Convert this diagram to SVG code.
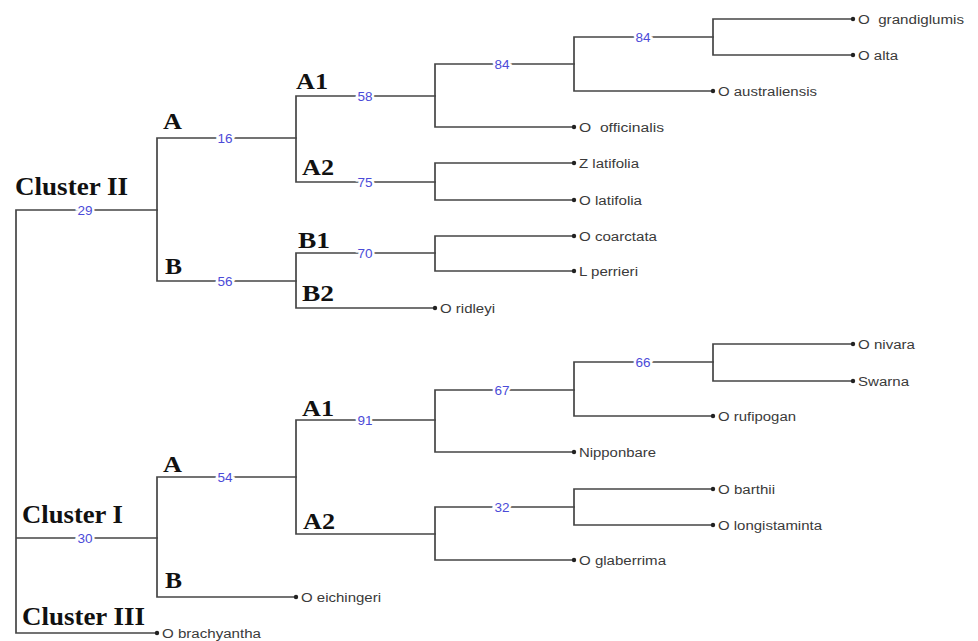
<svg xmlns="http://www.w3.org/2000/svg" width="978" height="641" viewBox="0 0 978 641">
<style>
.e{fill:none;stroke:#454545;stroke-width:1.7;stroke-linecap:square}
.d{fill:#222}
.t{font-family:"Liberation Sans",Arial,sans-serif;font-size:12.5px;fill:#3a3a3a}
.n{font-family:"Liberation Sans",Arial,sans-serif;font-size:13.5px;fill:#4b4bd8;text-anchor:middle;dominant-baseline:central;stroke:#fff;stroke-width:5;paint-order:stroke}
.c{font-family:"Liberation Serif","Times New Roman",serif;font-weight:bold;font-size:26px;fill:#111}
.s{font-family:"Liberation Serif","Times New Roman",serif;font-weight:bold;font-size:23px;fill:#111}
</style>
<rect width="978" height="641" fill="#fff"/>
<g id="connectors">
<path class="e" d="M16,210V633M16,210H157M16,538H157M16,633H157"/>
<path class="e" d="M157,138V281M157,138H296M157,281H296"/>
<path class="e" d="M296,96V182M296,96H435M296,182H435"/>
<path class="e" d="M435,64V127M435,64H574M435,127H574"/>
<path class="e" d="M574,37V91M574,37H713M574,91H713"/>
<path class="e" d="M713,19V55M713,19H853M713,55H853"/>
<path class="e" d="M435,163V200M435,163H574M435,200H574"/>
<path class="e" d="M296,253V308M296,253H435M296,308H435"/>
<path class="e" d="M435,236V271M435,236H574M435,271H574"/>
<path class="e" d="M157,477V597M157,477H296M157,597H296"/>
<path class="e" d="M296,420V534M296,420H435M296,534H435"/>
<path class="e" d="M435,390V452M435,390H574M435,452H574"/>
<path class="e" d="M574,362V416M574,362H713M574,416H713"/>
<path class="e" d="M713,344V381M713,344H853M713,381H853"/>
<path class="e" d="M435,507V560M435,507H574M435,560H574"/>
<path class="e" d="M574,489V525M574,489H713M574,525H713"/>
</g>
<g id="support">
<text class="n" x="85" y="210">29</text>
<text class="n" x="225" y="138">16</text>
<text class="n" x="225" y="281">56</text>
<text class="n" x="365" y="96">58</text>
<text class="n" x="365" y="182">75</text>
<text class="n" x="502" y="64">84</text>
<text class="n" x="643" y="37">84</text>
<text class="n" x="365" y="253">70</text>
<text class="n" x="85" y="538">30</text>
<text class="n" x="225" y="477">54</text>
<text class="n" x="365" y="420">91</text>
<text class="n" x="502" y="390">67</text>
<text class="n" x="643" y="362">66</text>
<text class="n" x="502" y="507">32</text>
</g>
<g id="clade-labels">
<text class="c" x="15" y="195" textLength="113" lengthAdjust="spacingAndGlyphs">Cluster II</text>
<text class="c" x="22" y="523" textLength="101" lengthAdjust="spacingAndGlyphs">Cluster I</text>
<text class="c" x="22" y="625" textLength="123" lengthAdjust="spacingAndGlyphs">Cluster III</text>
<text class="s" x="163" y="129" textLength="19" lengthAdjust="spacingAndGlyphs">A</text>
<text class="s" x="165" y="274" textLength="17" lengthAdjust="spacingAndGlyphs">B</text>
<text class="s" x="296" y="89" textLength="32" lengthAdjust="spacingAndGlyphs">A1</text>
<text class="s" x="302" y="175" textLength="32" lengthAdjust="spacingAndGlyphs">A2</text>
<text class="s" x="298" y="248" textLength="32" lengthAdjust="spacingAndGlyphs">B1</text>
<text class="s" x="302" y="301" textLength="32" lengthAdjust="spacingAndGlyphs">B2</text>
<text class="s" x="163" y="472" textLength="19" lengthAdjust="spacingAndGlyphs">A</text>
<text class="s" x="165" y="588" textLength="17" lengthAdjust="spacingAndGlyphs">B</text>
<text class="s" x="302" y="416" textLength="32" lengthAdjust="spacingAndGlyphs">A1</text>
<text class="s" x="303" y="529" textLength="32" lengthAdjust="spacingAndGlyphs">A2</text>
</g>
<g id="leaf-grandiglumis"><circle class="d" cx="853" cy="19" r="2.2"/><text class="t" x="858" y="23.5" textLength="106" lengthAdjust="spacingAndGlyphs" xml:space="preserve">O  grandiglumis</text></g>
<g id="leaf-alta"><circle class="d" cx="853" cy="55" r="2.2"/><text class="t" x="858" y="59.5" textLength="40" lengthAdjust="spacingAndGlyphs">O alta</text></g>
<g id="leaf-australiensis"><circle class="d" cx="713" cy="91" r="2.2"/><text class="t" x="718" y="95.5" textLength="99" lengthAdjust="spacingAndGlyphs">O australiensis</text></g>
<g id="leaf-officinalis"><circle class="d" cx="574" cy="127" r="2.2"/><text class="t" x="579" y="131.5" textLength="85" lengthAdjust="spacingAndGlyphs" xml:space="preserve">O  officinalis</text></g>
<g id="leaf-z-latifolia"><circle class="d" cx="574" cy="163" r="2.2"/><text class="t" x="579" y="167.5" textLength="60" lengthAdjust="spacingAndGlyphs">Z latifolia</text></g>
<g id="leaf-o-latifolia"><circle class="d" cx="574" cy="200" r="2.2"/><text class="t" x="579" y="204.5" textLength="63" lengthAdjust="spacingAndGlyphs">O latifolia</text></g>
<g id="leaf-coarctata"><circle class="d" cx="574" cy="236" r="2.2"/><text class="t" x="579" y="240.5" textLength="78" lengthAdjust="spacingAndGlyphs">O coarctata</text></g>
<g id="leaf-perrieri"><circle class="d" cx="574" cy="271" r="2.2"/><text class="t" x="579" y="275.5" textLength="59" lengthAdjust="spacingAndGlyphs">L perrieri</text></g>
<g id="leaf-ridleyi"><circle class="d" cx="435" cy="308" r="2.2"/><text class="t" x="440" y="312.5" textLength="55" lengthAdjust="spacingAndGlyphs">O ridleyi</text></g>
<g id="leaf-nivara"><circle class="d" cx="853" cy="344" r="2.2"/><text class="t" x="858" y="348.5" textLength="57" lengthAdjust="spacingAndGlyphs">O nivara</text></g>
<g id="leaf-swarna"><circle class="d" cx="853" cy="381" r="2.2"/><text class="t" x="858" y="385.5" textLength="51" lengthAdjust="spacingAndGlyphs">Swarna</text></g>
<g id="leaf-rufipogan"><circle class="d" cx="713" cy="416" r="2.2"/><text class="t" x="718" y="420.5" textLength="78" lengthAdjust="spacingAndGlyphs">O rufipogan</text></g>
<g id="leaf-nipponbare"><circle class="d" cx="574" cy="452" r="2.2"/><text class="t" x="579" y="456.5" textLength="77" lengthAdjust="spacingAndGlyphs">Nipponbare</text></g>
<g id="leaf-barthii"><circle class="d" cx="713" cy="489" r="2.2"/><text class="t" x="718" y="493.5" textLength="57" lengthAdjust="spacingAndGlyphs">O barthii</text></g>
<g id="leaf-longistaminta"><circle class="d" cx="713" cy="525" r="2.2"/><text class="t" x="718" y="529.5" textLength="104" lengthAdjust="spacingAndGlyphs">O longistaminta</text></g>
<g id="leaf-glaberrima"><circle class="d" cx="574" cy="560" r="2.2"/><text class="t" x="579" y="564.5" textLength="87" lengthAdjust="spacingAndGlyphs">O glaberrima</text></g>
<g id="leaf-eichingeri"><circle class="d" cx="296" cy="597" r="2.2"/><text class="t" x="301" y="601.5" textLength="80" lengthAdjust="spacingAndGlyphs">O eichingeri</text></g>
<g id="leaf-brachyantha"><circle class="d" cx="157" cy="633" r="2.2"/><text class="t" x="162" y="637.5" textLength="99" lengthAdjust="spacingAndGlyphs">O brachyantha</text></g>
</svg>
